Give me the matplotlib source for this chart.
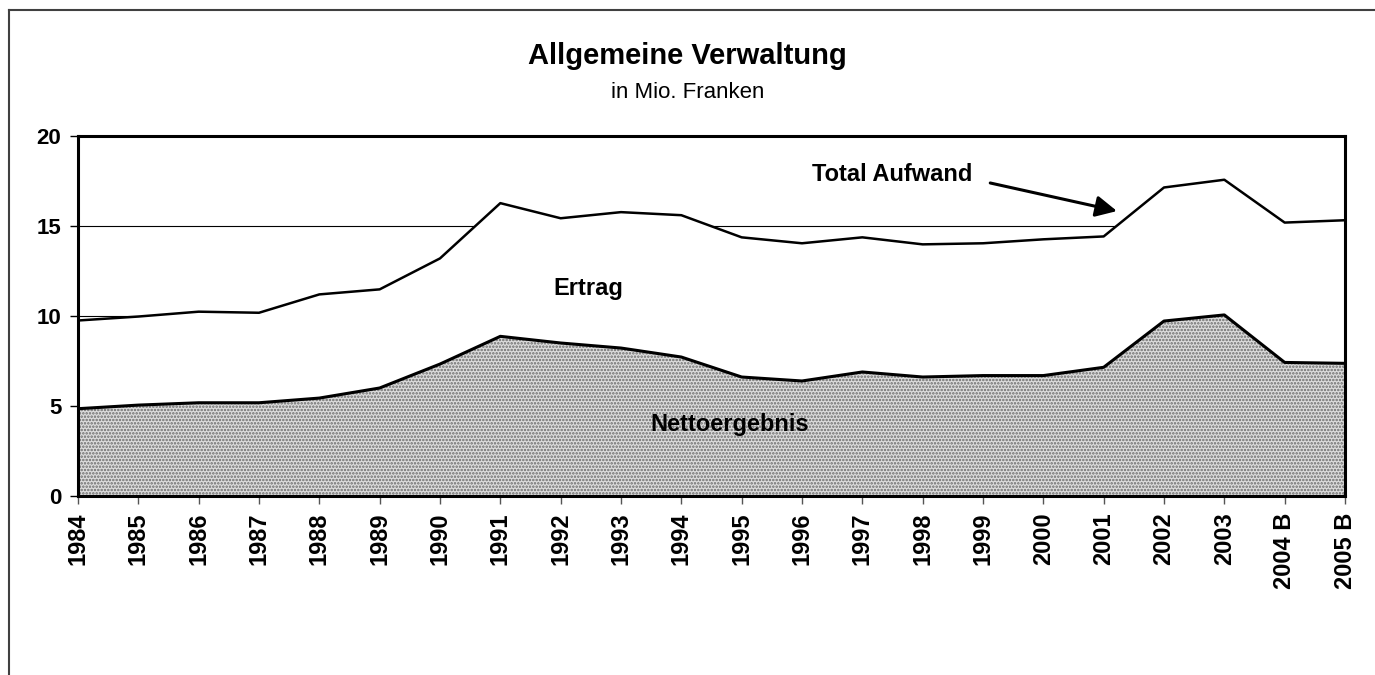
import matplotlib.pyplot as plt
from matplotlib.lines import Line2D

years = ['1984', '1985', '1986', '1987', '1988', '1989', '1990', '1991', '1992',
         '1993', '1994', '1995', '1996', '1997', '1998', '1999', '2000', '2001',
         '2002', '2003', '2004 B', '2005 B']
total_aufwand = [9.75, 9.97, 10.24, 10.18, 11.2, 11.48, 13.2, 16.27, 15.43,
                 15.77, 15.6, 14.37, 14.04, 14.37, 13.98, 14.04, 14.26, 14.42,
                 17.14, 17.57, 15.19, 15.32]
nettoergebnis = [4.85, 5.05, 5.18, 5.18, 5.44, 6.0, 7.33, 8.87, 8.5,
                 8.22, 7.72, 6.61, 6.39, 6.89, 6.61, 6.69, 6.69, 7.15,
                 9.72, 10.06, 7.42, 7.37]

plt.rcParams['font.family'] = ['Liberation Sans', 'DejaVu Sans']
plt.rcParams['hatch.linewidth'] = 1.2

fig = plt.figure(figsize=(13.75, 6.75), dpi=100)
ax = fig.add_axes([78 / 1375, 1 - 496 / 675, (1345 - 78) / 1375, (496 - 136) / 675])

x = list(range(len(years)))

# gridlines (hidden behind the white Ertrag area)
for g in [10, 15, 20]:
    ax.axhline(g, color='black', lw=0.8, zorder=0)

# Ertrag area (white) between netto and total
ax.fill_between(x, nettoergebnis, total_aufwand, facecolor='white', lw=0, zorder=1)
# Nettoergebnis area: stippled
ax.fill_between(x, 0, nettoergebnis, facecolor='#dcdcdc', edgecolor='#6a6a6a',
                hatch='.....', lw=0, zorder=2)
ax.plot(x, nettoergebnis, color='black', lw=2.2, zorder=3)
ax.plot(x, total_aufwand, color='black', lw=1.8, zorder=3)

ax.set_xlim(0, len(years) - 1)
ax.set_ylim(0, 20)
ax.set_yticks([0, 5, 10, 15, 20])
ax.set_xticks(x)
ax.set_xticklabels(years, rotation=90, fontsize=17, fontweight='bold')
for lab in ax.get_yticklabels():
    lab.set_fontsize(16)
    lab.set_fontweight('bold')
ax.tick_params(axis='x', direction='out', length=6, width=1, color='#555555', pad=6)
ax.tick_params(axis='y', direction='out', length=6, width=1, pad=6)
for s in ax.spines.values():
    s.set_linewidth(2.2)
    s.set_zorder(4)

ax.text(8.45, 11.5, 'Ertrag', ha='center', va='center', fontsize=17,
        fontweight='bold', zorder=5)
ax.text(10.8, 3.95, 'Nettoergebnis', ha='center', va='center', fontsize=17,
        fontweight='bold', zorder=5)
ax.text(13.5, 17.85, 'Total Aufwand', ha='center', va='center', fontsize=17,
        fontweight='bold', zorder=5)
ax.annotate('', xy=(17.22, 15.83), xytext=(15.12, 17.39),
            arrowprops=dict(arrowstyle='-|>', color='black', lw=2.2,
                            mutation_scale=32, shrinkA=0, shrinkB=0), zorder=5)

fig.text(0.5, 1 - 56 / 675, 'Allgemeine Verwaltung', ha='center', va='center',
         fontsize=21, fontweight='bold')
fig.text(0.5, 1 - 93 / 675, 'in Mio. Franken', ha='center', va='center', fontsize=16)

# outer frame lines (left and top)
fig.add_artist(Line2D([8.5 / 1375, 8.5 / 1375], [0, 1 - 10 / 675], color='#404040',
                      lw=1.5, transform=fig.transFigure))
fig.add_artist(Line2D([8.5 / 1375, 1], [1 - 10 / 675, 1 - 10 / 675], color='#404040',
                      lw=1.5, transform=fig.transFigure))

fig.savefig('out.png', dpi=100)
